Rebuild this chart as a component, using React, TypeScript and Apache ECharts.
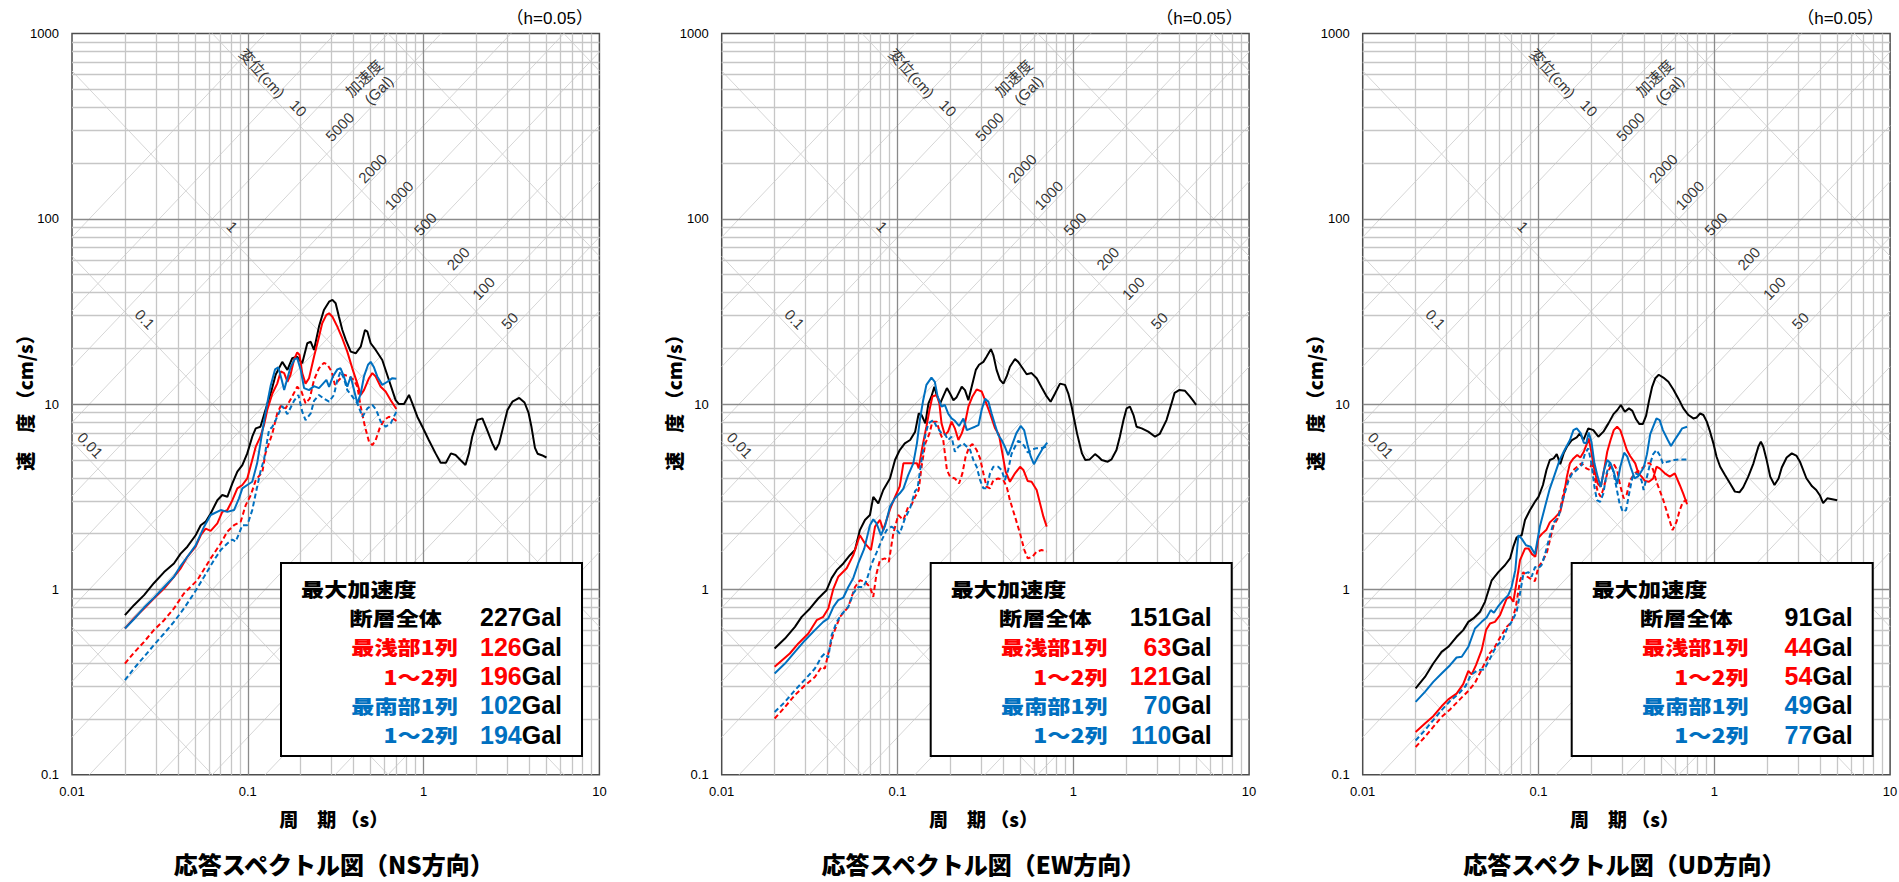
import React, { useEffect, useRef } from 'react';
import * as echarts from 'echarts';

const W = 1899;
const H = 882;

// ---- tick labels ----
const xTickLabels = ['0.01', '0.1', '1', '10'];
const yTickLabels = ['0.1', '1', '10', '100', '1000'];

// ---- titles / legend text ----
const panelTitles = ['応答スペクトル図（NS方向）', '応答スペクトル図（EW方向）', '応答スペクトル図（UD方向）'];
const legendTitle = '最大加速度';
const legendNames = ['断層全体', '最浅部1列', '1～2列', '最南部1列', '1～2列'];
const pgaNS = [227, 126, 196, 102, 194];
const pgaEW = [151, 63, 121, 70, 110];
const pgaUD = [91, 44, 54, 49, 77];

// ---- tripartite reference lines ----
const dispLines = [0.001, 0.01, 0.1, 1, 10, 100, 1000]; // cm
const accLines = [1, 2, 5, 10, 20, 50, 100, 200, 500, 1000, 2000, 5000, 10000, 20000, 50000]; // Gal
// annotation anchors (period s, velocity cm/s, text)
const dispLabelPos: [number, number, string][] = [
  [0.194, 395, '10'], [0.0818, 90.6, '1'], [0.026, 28.7, '0.1'], [0.0127, 6.0, '0.01'],
];
const accLabelPos: [number, number, string][] = [
  [0.333, 314, '5000'], [0.512, 187, '2000'], [0.724, 134, '1000'], [1.02, 93.7, '500'],
  [1.57, 61.2, '200'], [2.19, 42.2, '100'], [3.08, 28.2, '50'],
];
const dispTitlePos: [number, number, string] = [0.1205, 610, '変位(cm)'];
const accTitlePos: [number, number, string] = [0.458, 573, '加速度'];
const accUnitPos: [number, number, string] = [0.555, 495, '(Gal)'];

// ---- NS spectra [period s, velocity cm/s] ----
const nsTotal = [[0.02,0.726],[0.0225,0.822],[0.0257,0.931],[0.0292,1.08],[0.0334,1.24],[0.038,1.38],[0.0415,1.56],[0.0453,1.7],[0.0505,1.96],[0.054,2.22],[0.0576,2.32],[0.0615,2.57],[0.0671,3.03],[0.0716,3.23],[0.0765,3.16],[0.0817,3.73],[0.0872,4.32],[0.0931,4.69],[0.0993,5.42],[0.106,6.67],[0.111,7.4],[0.118,7.55],[0.126,9.29],[0.135,11.4],[0.144,14.4],[0.157,16.9],[0.168,15.3],[0.179,17.7],[0.191,18.0],[0.204,16.6],[0.218,21.3],[0.228,21.7],[0.238,19.6],[0.254,26.2],[0.271,32.2],[0.29,35.7],[0.303,36.5],[0.316,35.0],[0.33,29.6],[0.345,25.1],[0.361,22.2],[0.385,19.2],[0.411,18.8],[0.439,20.4],[0.464,25.1],[0.479,24.6],[0.5,21.3],[0.534,19.6],[0.582,17.3],[0.635,13.5],[0.693,10.5],[0.724,10.0],[0.774,10.0],[0.826,11.2],[0.863,10.1],[0.921,8.55],[0.984,7.55],[1.07,6.4],[1.17,5.42],[1.25,4.83],[1.34,4.83],[1.43,5.42],[1.52,5.31],[1.62,4.99],[1.73,4.69],[1.81,5.42],[1.89,6.67],[2.02,8.2],[2.16,8.37],[2.3,7.24],[2.46,6.14],[2.57,5.65],[2.69,6.14],[2.87,7.87],[3.0,9.3],[3.2,10.3],[3.5,10.8],[3.75,10.2],[3.95,9.0],[4.1,7.6],[4.3,5.8],[4.45,5.4],[4.7,5.3],[5.0,5.15]];
const nsShallow1 = [[0.02,0.615],[0.0225,0.697],[0.0257,0.789],[0.0292,0.893],[0.0334,1.01],[0.038,1.17],[0.0415,1.3],[0.0453,1.5],[0.0505,1.7],[0.054,1.96],[0.0576,2.13],[0.0615,2.07],[0.0671,2.27],[0.0716,2.62],[0.0765,2.68],[0.0817,3.03],[0.0872,3.51],[0.0931,3.66],[0.0993,3.97],[0.106,4.99],[0.111,5.89],[0.118,6.67],[0.124,7.8],[0.129,9.29],[0.138,11.4],[0.147,12.9],[0.154,15.0],[0.161,14.7],[0.168,13.2],[0.175,14.4],[0.183,17.3],[0.191,19.0],[0.197,18.4],[0.204,14.7],[0.213,12.9],[0.223,13.8],[0.238,18.0],[0.254,23.1],[0.265,27.3],[0.28,30.3],[0.29,30.9],[0.303,29.6],[0.323,26.2],[0.345,22.6],[0.368,19.2],[0.393,15.6],[0.42,12.9],[0.439,11.2],[0.458,11.9],[0.489,13.8],[0.511,14.7],[0.534,14.1],[0.57,12.4],[0.608,11.7],[0.65,10.5],[0.7,9.4]];
const nsShallow12 = [[0.02,0.398],[0.0225,0.455],[0.0257,0.521],[0.0292,0.603],[0.0334,0.682],[0.038,0.789],[0.0433,0.951],[0.0516,1.12],[0.0615,1.47],[0.0701,1.77],[0.0765,2.05],[0.0835,2.22],[0.0911,2.32],[0.0973,2.85],[0.104,3.23],[0.111,3.89],[0.121,4.3],[0.126,5.42],[0.138,6.95],[0.147,8.9],[0.154,9.77],[0.164,9.48],[0.179,11.0],[0.191,12.4],[0.202,11.7],[0.213,10.1],[0.225,10.7],[0.238,13.5],[0.254,15.6],[0.271,16.7],[0.283,16.4],[0.3,15.0],[0.313,12.7],[0.33,13.5],[0.352,14.4],[0.377,14.1],[0.402,13.5],[0.42,12.4],[0.439,9.68],[0.464,7.55],[0.489,6.27],[0.511,6.01],[0.534,6.4],[0.562,7.4],[0.596,8.2],[0.635,8.55],[0.68,8.28],[0.7,8.1]];
const nsSouth1 = [[0.02,0.615],[0.0225,0.69],[0.0257,0.798],[0.0292,0.9],[0.0334,1.03],[0.038,1.17],[0.0415,1.34],[0.0453,1.5],[0.0505,1.73],[0.0564,2.18],[0.0615,2.52],[0.0701,2.68],[0.0765,2.62],[0.0835,2.68],[0.0891,3.1],[0.0931,3.51],[0.0993,3.66],[0.106,3.81],[0.113,4.79],[0.118,6.14],[0.124,8.2],[0.13,10.5],[0.135,12.6],[0.143,15.4],[0.149,15.8],[0.156,13.5],[0.161,11.9],[0.168,13.8],[0.175,15.8],[0.185,17.5],[0.191,17.7],[0.2,15.3],[0.209,12.2],[0.223,11.9],[0.238,12.5],[0.254,12.2],[0.268,12.9],[0.28,13.5],[0.29,12.4],[0.305,14.1],[0.323,15.4],[0.337,15.6],[0.352,14.1],[0.368,12.4],[0.385,14.1],[0.402,11.9],[0.42,10.1],[0.439,11.4],[0.458,14.1],[0.483,16.3],[0.5,16.9],[0.522,15.8],[0.545,14.1],[0.582,12.7],[0.622,13.2],[0.664,13.8],[0.7,13.7]];
const nsSouth12 = [[0.02,0.324],[0.0225,0.374],[0.0257,0.433],[0.0292,0.5],[0.0334,0.578],[0.038,0.668],[0.0433,0.789],[0.0494,0.951],[0.0564,1.17],[0.0643,1.44],[0.0701,1.63],[0.0765,1.77],[0.0817,1.86],[0.0853,1.81],[0.0891,2.0],[0.0931,2.22],[0.0993,2.22],[0.106,2.68],[0.111,3.3],[0.118,4.32],[0.124,5.09],[0.132,7.24],[0.138,7.55],[0.144,8.2],[0.157,9.77],[0.168,8.83],[0.183,10.4],[0.194,11.2],[0.204,9.1],[0.213,8.2],[0.228,8.9],[0.238,10.4],[0.254,11.2],[0.271,10.7],[0.29,10.3],[0.309,11.2],[0.323,13.5],[0.337,15.0],[0.352,13.8],[0.368,11.9],[0.393,11.0],[0.42,10.1],[0.449,8.55],[0.479,9.48],[0.511,9.89],[0.538,9.29],[0.57,8.04],[0.608,7.55],[0.65,7.87],[0.7,9.1]];

// ---- EW spectra ----
const ewTotal = [[0.02,0.48],[0.0229,0.543],[0.0261,0.628],[0.0285,0.711],[0.0318,0.789],[0.0354,0.893],[0.0378,0.951],[0.0395,0.99],[0.0422,1.15],[0.0451,1.27],[0.0492,1.38],[0.0536,1.53],[0.0573,1.63],[0.0611,2.09],[0.0653,2.37],[0.0697,2.52],[0.0728,3.16],[0.0778,2.91],[0.083,3.44],[0.0906,3.97],[0.0968,4.99],[0.103,5.65],[0.11,6.14],[0.118,6.4],[0.126,7.1],[0.132,8.9],[0.137,8.73],[0.144,7.87],[0.15,10.1],[0.156,11.0],[0.162,12.4],[0.167,11.2],[0.175,10.1],[0.182,11.0],[0.191,12.2],[0.199,11.4],[0.208,10.5],[0.217,10.9],[0.232,12.4],[0.242,11.9],[0.253,10.5],[0.267,12.9],[0.279,15.3],[0.291,16.3],[0.308,16.9],[0.321,18.0],[0.34,19.8],[0.351,18.4],[0.366,15.3],[0.383,13.5],[0.4,12.9],[0.418,14.1],[0.436,15.9],[0.466,17.5],[0.486,16.9],[0.508,15.9],[0.543,14.5],[0.579,14.7],[0.619,13.8],[0.661,12.3],[0.706,11.0],[0.743,10.3],[0.787,11.4],[0.84,12.9],[0.897,12.7],[0.937,11.4],[0.979,9.68],[1.05,6.95],[1.12,5.42],[1.17,4.99],[1.24,5.03],[1.33,5.37],[1.39,5.2],[1.45,4.99],[1.57,4.89],[1.65,5.03],[1.76,5.65],[1.84,6.67],[1.93,8.2],[2.01,9.48],[2.1,9.68],[2.2,8.73],[2.29,7.55],[2.45,7.4],[2.67,7.1],[2.92,6.67],[3.1,6.9],[3.39,8.2],[3.6,9.9],[3.77,11.5],[4.0,11.9],[4.32,11.8],[4.6,11.0],[4.85,10.3],[5.0,9.9]];
const ewShallow1 = [[0.02,0.382],[0.0244,0.451],[0.0273,0.511],[0.0311,0.578],[0.0347,0.682],[0.0378,0.711],[0.0404,0.789],[0.0432,1.01],[0.046,1.17],[0.0514,1.3],[0.056,1.53],[0.0611,1.96],[0.0653,1.77],[0.0706,1.63],[0.0745,2.18],[0.0795,2.37],[0.083,2.09],[0.0906,2.7],[0.0968,3.16],[0.103,3.6],[0.108,4.79],[0.12,4.79],[0.129,4.79],[0.132,4.5],[0.138,5.77],[0.146,7.55],[0.152,9.29],[0.158,11.0],[0.167,11.2],[0.173,10.1],[0.178,7.87],[0.186,6.81],[0.194,7.1],[0.203,8.04],[0.212,7.4],[0.222,6.4],[0.232,6.95],[0.242,7.87],[0.253,9.68],[0.267,11.0],[0.282,12.0],[0.301,11.7],[0.315,10.5],[0.336,8.9],[0.359,7.4],[0.378,6.81],[0.395,5.42],[0.412,4.32],[0.436,3.81],[0.466,4.23],[0.498,4.59],[0.52,4.41],[0.55,3.85],[0.579,3.81],[0.619,3.44],[0.647,2.91],[0.676,2.47],[0.706,2.18]];
const ewShallow12 = [[0.02,0.201],[0.0229,0.232],[0.0261,0.269],[0.0298,0.304],[0.0339,0.337],[0.037,0.382],[0.0386,0.374],[0.0404,0.451],[0.0432,0.578],[0.0471,0.711],[0.0525,0.805],[0.0573,1.03],[0.0611,1.12],[0.0653,1.1],[0.0697,1.03],[0.0728,0.912],[0.076,1.22],[0.0795,1.44],[0.0849,1.47],[0.0893,1.41],[0.0946,2.0],[0.101,2.52],[0.108,2.37],[0.115,2.79],[0.12,2.85],[0.126,3.16],[0.132,3.44],[0.137,4.59],[0.144,6.14],[0.152,6.95],[0.158,8.04],[0.167,8.04],[0.175,6.95],[0.182,6.4],[0.191,4.41],[0.199,4.06],[0.212,3.97],[0.224,3.73],[0.234,4.23],[0.244,5.2],[0.256,5.89],[0.267,6.08],[0.282,5.65],[0.295,5.09],[0.308,4.23],[0.321,3.58],[0.336,3.51],[0.351,3.89],[0.374,3.97],[0.4,3.89],[0.418,3.58],[0.436,3.03],[0.466,2.47],[0.498,2.0],[0.527,1.63],[0.551,1.47],[0.585,1.5],[0.619,1.6],[0.661,1.63],[0.706,1.6]];
const ewSouth1 = [[0.02,0.352],[0.0229,0.398],[0.0261,0.46],[0.0298,0.532],[0.0339,0.603],[0.0378,0.668],[0.0404,0.697],[0.0432,0.805],[0.046,0.875],[0.0492,0.904],[0.0525,1.03],[0.056,1.15],[0.0598,1.38],[0.0647,1.66],[0.0697,2.22],[0.0728,2.39],[0.076,2.27],[0.0805,1.96],[0.0849,2.2],[0.0906,2.79],[0.0966,3.1],[0.103,3.3],[0.108,3.5],[0.115,4.14],[0.123,4.79],[0.129,6.14],[0.134,8.2],[0.14,10.5],[0.146,12.7],[0.156,13.9],[0.163,13.2],[0.169,11.0],[0.178,9.68],[0.186,9.89],[0.194,8.9],[0.203,8.37],[0.212,8.13],[0.224,7.62],[0.237,8.37],[0.248,7.24],[0.262,7.4],[0.276,7.55],[0.289,7.71],[0.301,9.29],[0.315,10.7],[0.329,10.3],[0.343,8.9],[0.359,7.71],[0.374,6.81],[0.391,6.4],[0.408,5.89],[0.426,5.31],[0.445,5.89],[0.474,6.95],[0.502,7.62],[0.525,7.24],[0.548,6.08],[0.573,5.2],[0.597,4.74],[0.629,5.2],[0.671,5.77],[0.711,6.19]];
const ewSouth12 = [[0.02,0.218],[0.0229,0.247],[0.0261,0.286],[0.0298,0.327],[0.0339,0.374],[0.037,0.433],[0.0386,0.451],[0.0404,0.429],[0.0422,0.566],[0.0451,0.668],[0.0481,0.734],[0.0525,0.805],[0.056,0.951],[0.0598,1.03],[0.0639,1.03],[0.0667,1.12],[0.0714,1.38],[0.076,1.58],[0.0815,1.85],[0.0867,2.09],[0.0924,2.18],[0.0987,2.1],[0.103,2.0],[0.11,2.4],[0.118,2.75],[0.126,3.4],[0.13,3.5],[0.137,4.99],[0.144,6.81],[0.15,7.87],[0.16,8.2],[0.167,7.55],[0.178,6.95],[0.186,6.89],[0.194,6.4],[0.203,6.67],[0.212,5.53],[0.222,5.89],[0.237,6.14],[0.248,5.89],[0.259,5.65],[0.27,4.99],[0.282,4.59],[0.295,3.89],[0.308,3.51],[0.321,3.51],[0.336,4.23],[0.351,4.59],[0.374,4.59],[0.391,4.41],[0.408,3.89],[0.426,4.41],[0.445,5.37],[0.466,5.89],[0.486,6.34],[0.508,6.19],[0.529,5.89],[0.551,5.47],[0.574,5.65],[0.612,5.77],[0.653,5.77],[0.7,5.89]];

// ---- UD spectra ----
const udTotal = [[0.02,0.292],[0.0226,0.337],[0.0252,0.398],[0.0281,0.46],[0.0307,0.49],[0.0342,0.555],[0.0373,0.603],[0.0399,0.668],[0.0426,0.697],[0.0465,0.757],[0.0496,0.857],[0.0542,1.12],[0.0591,1.24],[0.0644,1.35],[0.0689,1.47],[0.0719,1.7],[0.0751,1.91],[0.0802,1.96],[0.0838,2.37],[0.0895,2.68],[0.0955,2.97],[0.1,3.16],[0.106,3.66],[0.111,4.41],[0.116,4.99],[0.122,5.09],[0.127,5.37],[0.133,4.74],[0.139,5.42],[0.145,5.89],[0.155,6.4],[0.165,6.61],[0.172,6.95],[0.18,6.4],[0.192,7.4],[0.205,7.24],[0.219,6.67],[0.234,7.1],[0.25,7.87],[0.267,8.83],[0.281,9.29],[0.294,9.89],[0.31,9.1],[0.327,9.48],[0.342,9.2],[0.359,8.28],[0.375,7.8],[0.392,7.8],[0.409,8.63],[0.426,10.5],[0.443,12.4],[0.462,13.8],[0.483,14.4],[0.513,13.9],[0.548,13.2],[0.585,12.0],[0.625,10.7],[0.667,9.48],[0.713,8.73],[0.76,8.37],[0.794,8.47],[0.83,8.9],[0.867,8.73],[0.906,8.04],[0.946,7.1],[0.988,6.14],[1.03,5.2],[1.08,4.59],[1.15,4.14],[1.23,3.73],[1.31,3.37],[1.39,3.34],[1.46,3.55],[1.56,4.06],[1.67,4.79],[1.78,5.89],[1.84,6.27],[1.9,5.89],[1.99,4.94],[2.08,4.06],[2.2,3.66],[2.32,3.97],[2.42,4.55],[2.58,5.15],[2.76,5.42],[2.94,5.25],[3.07,4.89],[3.34,3.98],[3.6,3.6],[3.8,3.44],[4.0,3.2],[4.16,2.92],[4.39,3.1],[5.0,3.03]];
const udShallow1 = [[0.02,0.17],[0.0226,0.189],[0.0252,0.207],[0.0281,0.234],[0.0307,0.255],[0.0342,0.274],[0.0373,0.308],[0.0399,0.363],[0.0417,0.348],[0.0441,0.39],[0.0475,0.47],[0.0503,0.603],[0.053,0.655],[0.0565,0.668],[0.0604,0.726],[0.0659,0.893],[0.0689,0.912],[0.0719,0.857],[0.0751,1.1],[0.0785,1.44],[0.0838,1.66],[0.0879,1.66],[0.0918,1.55],[0.0959,1.5],[0.1,1.9],[0.105,2.0],[0.111,2.1],[0.116,2.3],[0.124,2.44],[0.133,2.62],[0.139,3.16],[0.145,4.06],[0.151,4.79],[0.158,5.09],[0.166,5.31],[0.173,5.15],[0.181,5.53],[0.187,6.01],[0.193,6.53],[0.199,5.65],[0.208,4.41],[0.217,3.73],[0.226,3.58],[0.236,4.41],[0.246,5.53],[0.257,6.4],[0.268,7.24],[0.28,7.55],[0.292,7.24],[0.305,6.4],[0.318,5.65],[0.332,5.25],[0.355,4.79],[0.37,4.23],[0.386,4.06],[0.403,3.85],[0.425,3.81],[0.449,3.97],[0.469,4.59],[0.489,4.5],[0.523,4.23],[0.558,4.06],[0.596,4.23],[0.636,3.66],[0.665,3.3],[0.7,2.88]];
const udShallow12 = [[0.02,0.141],[0.0226,0.16],[0.0252,0.181],[0.0281,0.205],[0.0314,0.225],[0.0357,0.255],[0.0399,0.283],[0.0435,0.313],[0.0465,0.355],[0.0496,0.402],[0.053,0.455],[0.0565,0.49],[0.0604,0.55],[0.0659,0.628],[0.0703,0.668],[0.0744,0.805],[0.0785,1.12],[0.082,1.24],[0.0864,1.17],[0.0914,1.13],[0.0955,1.11],[0.0998,1.32],[0.106,1.43],[0.112,1.6],[0.117,1.9],[0.122,2.22],[0.128,2.39],[0.133,2.74],[0.14,3.44],[0.148,3.97],[0.158,4.41],[0.166,4.59],[0.176,4.79],[0.187,4.5],[0.196,4.41],[0.202,4.94],[0.208,4.06],[0.217,3.37],[0.226,3.16],[0.236,3.58],[0.246,4.23],[0.257,4.59],[0.268,4.74],[0.28,4.41],[0.292,3.61],[0.305,3.1],[0.318,3.27],[0.332,3.89],[0.355,4.26],[0.38,4.41],[0.397,4.59],[0.414,4.79],[0.432,4.79],[0.449,4.41],[0.469,3.81],[0.513,3.03],[0.548,2.47],[0.579,2.09],[0.61,2.32],[0.636,2.68],[0.663,2.97],[0.7,3.03]];
const udSouth1 = [[0.02,0.247],[0.0226,0.28],[0.0252,0.317],[0.0281,0.352],[0.0314,0.39],[0.0342,0.429],[0.0366,0.433],[0.0399,0.49],[0.0435,0.615],[0.0475,0.668],[0.0507,0.705],[0.0535,0.773],[0.0558,0.748],[0.0591,0.813],[0.063,0.875],[0.0673,0.931],[0.0703,1.03],[0.0738,1.27],[0.0768,1.96],[0.0802,1.88],[0.0849,1.73],[0.0902,1.7],[0.0955,1.55],[0.102,2.2],[0.109,2.8],[0.116,3.5],[0.124,4.2],[0.132,5.0],[0.14,5.6],[0.151,6.4],[0.158,7.24],[0.165,7.4],[0.174,6.95],[0.181,6.19],[0.187,6.14],[0.193,7.02],[0.2,6.27],[0.208,4.79],[0.217,4.06],[0.226,3.58],[0.236,4.41],[0.246,4.99],[0.257,4.79],[0.268,4.32],[0.28,3.7],[0.292,4.59],[0.307,5.47],[0.32,5.2],[0.335,4.55],[0.352,3.97],[0.37,4.09],[0.397,4.55],[0.414,5.37],[0.432,6.89],[0.449,7.55],[0.469,8.37],[0.489,8.2],[0.51,7.24],[0.544,6.4],[0.567,5.94],[0.591,6.34],[0.63,6.95],[0.657,7.4],[0.7,7.55]];
const udSouth12 = [[0.02,0.153],[0.0226,0.174],[0.0252,0.197],[0.0281,0.223],[0.0314,0.25],[0.0352,0.274],[0.0385,0.301],[0.0411,0.344],[0.045,0.366],[0.0491,0.37],[0.0525,0.415],[0.056,0.47],[0.059,0.506],[0.0624,0.532],[0.0659,0.608],[0.0703,0.668],[0.0751,0.757],[0.0785,0.951],[0.082,1.21],[0.0876,1.24],[0.0914,1.17],[0.0955,1.32],[0.0998,1.3],[0.104,1.35],[0.109,1.55],[0.116,1.95],[0.122,2.3],[0.13,2.47],[0.139,3.16],[0.148,3.85],[0.155,4.19],[0.165,4.41],[0.176,4.69],[0.184,5.42],[0.192,5.77],[0.2,4.79],[0.208,3.58],[0.215,3.03],[0.224,2.97],[0.234,3.3],[0.244,4.23],[0.254,4.79],[0.265,4.41],[0.277,3.58],[0.289,2.91],[0.302,2.62],[0.315,2.68],[0.328,3.3],[0.342,4.02],[0.357,4.23],[0.373,4.14],[0.386,3.85],[0.396,3.44],[0.414,4.06],[0.432,4.79],[0.449,5.37],[0.469,5.65],[0.489,5.31],[0.51,4.79],[0.544,4.89],[0.591,4.99],[0.63,5.03],[0.7,5.03]];

const panelSeries = [
  [nsTotal, nsShallow1, nsShallow12, nsSouth1, nsSouth12],
  [ewTotal, ewShallow1, ewShallow12, ewSouth1, ewSouth12],
  [udTotal, udShallow1, udShallow12, udSouth1, udSouth12],
];
const panelPga = [pgaNS, pgaEW, pgaUD];

// ---- layout / style ----
const PANEL_LEFT = [72, 721.7, 1362.7];
const PLOT_TOP = 33.5;
const PLOT_W = 527.4;
const PLOT_H = 741.2;
const FONT = "'Liberation Sans', 'Noto Sans CJK JP', sans-serif";
const JFONT = "'Noto Sans CJK JP', sans-serif";
const COLORS = ['#000000', '#FF0000', '#FF0000', '#0070C0', '#0070C0'];
const DASHED = [false, false, true, false, true];

const T_MIN = 0.01, T_MAX = 10, V_MIN = 0.1, V_MAX = 1000;

function rectGrid() {
  const minor: any[] = [];
  const major: any[] = [];
  for (const k of [-2, -1, 0]) {
    for (let m = 1; m <= 9; m++) {
      const t = m * Math.pow(10, k);
      if (t <= T_MIN + 1e-9) continue;
      const item = { coords: [[t, V_MIN], [t, V_MAX]] };
      (m === 1 ? major : minor).push(item);
    }
  }
  for (const k of [-1, 0, 1, 2]) {
    for (let m = 1; m <= 9; m++) {
      const v = m * Math.pow(10, k);
      if (v <= V_MIN + 1e-9) continue;
      const item = { coords: [[T_MIN, v], [T_MAX, v]] };
      (m === 1 ? major : minor).push(item);
    }
  }
  return { minor, major };
}

function diagGrid() {
  const out: any[] = [];
  for (const d of dispLines) {
    const c = 2 * Math.PI * d; // V = c / T
    const t1 = Math.max(T_MIN, c / V_MAX);
    const t2 = Math.min(T_MAX, c / V_MIN);
    if (t1 < t2) out.push({ coords: [[t1, c / t1], [t2, c / t2]] });
  }
  for (const a of accLines) {
    const c = a / (2 * Math.PI); // V = c * T
    const t1 = Math.max(T_MIN, V_MIN / c);
    const t2 = Math.min(T_MAX, V_MAX / c);
    if (t1 < t2) out.push({ coords: [[t1, c * t1], [t2, c * t2]] });
  }
  return out;
}

function buildOption() {
  const grid: any[] = [];
  const xAxis: any[] = [];
  const yAxis: any[] = [];
  const series: any[] = [];
  const graphic: any[] = [];
  const rg = rectGrid();
  const dg = diagGrid();

  PANEL_LEFT.forEach((L, p) => {
    grid.push({
      left: L, top: PLOT_TOP, width: PLOT_W, height: PLOT_H,
      show: true, borderColor: '#4d4d4d', borderWidth: 1.5, backgroundColor: 'transparent',
      containLabel: false, outerBoundsMode: 'none',
    });
    xAxis.push({
      type: 'log', logBase: 10, gridIndex: p, min: T_MIN, max: T_MAX,
      axisLine: { show: false }, axisTick: { show: false }, splitLine: { show: false },
      axisLabel: {
        show: true, margin: 10, color: '#000', fontSize: 13, fontFamily: FONT,
        showMinLabel: true, showMaxLabel: true,
        formatter: (v: number) => xTickLabels[Math.round(Math.log10(v)) + 2] ?? '',
      },
    });
    yAxis.push({
      type: 'log', logBase: 10, gridIndex: p, min: V_MIN, max: V_MAX,
      axisLine: { show: false }, axisTick: { show: false }, splitLine: { show: false },
      axisLabel: {
        show: true, margin: 13, color: '#000', fontSize: 13, fontFamily: FONT,
        showMinLabel: true, showMaxLabel: true,
        formatter: (v: number) => yTickLabels[Math.round(Math.log10(v)) + 1] ?? '',
      },
    });

    const common = { xAxisIndex: p, yAxisIndex: p, silent: true, animation: false };
    series.push({
      ...common, type: 'lines', coordinateSystem: 'cartesian2d', polyline: false, z: 1,
      data: dg, lineStyle: { color: '#d6d6d6', width: 1, opacity: 1 },
    });
    series.push({
      ...common, type: 'lines', coordinateSystem: 'cartesian2d', polyline: false, z: 1,
      data: rg.minor, lineStyle: { color: '#c6c6c6', width: 1.3, opacity: 1 },
    });
    series.push({
      ...common, type: 'lines', coordinateSystem: 'cartesian2d', polyline: false, z: 1,
      data: rg.major, lineStyle: { color: '#8a8a8a', width: 1.3, opacity: 1 },
    });

    panelSeries[p].forEach((data, i) => {
      series.push({
        ...common, type: 'line', name: legendNames[i], data, z: 5 + (i === 0 ? 0 : 1),
        showSymbol: false, symbol: 'none', smooth: false,
        lineStyle: { color: COLORS[i], width: 2, type: DASHED[i] ? [5, 3] : 'solid' },
      });
    });

    const labelItems: any[] = [];
    dispLabelPos.forEach(([t, v, s]) => labelItems.push({ value: [t, v], label: { formatter: s, rotate: -46 } }));
    accLabelPos.forEach(([t, v, s]) => labelItems.push({ value: [t, v], label: { formatter: s, rotate: 46 } }));
    labelItems.push({ value: [dispTitlePos[0], dispTitlePos[1]], label: { formatter: dispTitlePos[2], rotate: -48 } });
    labelItems.push({ value: [accTitlePos[0], accTitlePos[1]], label: { formatter: accTitlePos[2], rotate: 44 } });
    labelItems.push({ value: [accUnitPos[0], accUnitPos[1]], label: { formatter: accUnitPos[2], rotate: 45 } });
    series.push({
      ...common, type: 'scatter', z: 4, symbolSize: 1,
      itemStyle: { color: 'rgba(0,0,0,0)' },
      label: { show: true, position: 'inside', color: '#000', fontSize: 15, fontFamily: FONT },
      data: labelItems,
    });

    // texts
    graphic.push({
      type: 'text', x: L + 521, y: 18.3, z: 100,
      style: { text: '（h=0.05）', fill: '#000', fontSize: 17, fontFamily: FONT, align: 'right', verticalAlign: 'middle' },
    });
    graphic.push({
      type: 'text', x: L + PLOT_W / 2 - 2, y: 818, z: 100,
      style: { text: '周　期 （s）', fill: '#000', fontSize: 19, fontWeight: 900, fontFamily: JFONT, align: 'center', verticalAlign: 'middle' },
    });
    graphic.push({
      type: 'text', x: L - 48, y: 398, rotation: Math.PI / 2, z: 100,
      style: { text: '速　度 （cm/s）', fill: '#000', fontSize: 19, fontWeight: 900, fontFamily: JFONT, align: 'center', verticalAlign: 'middle' },
    });
    graphic.push({
      type: 'text', x: L + PLOT_W / 2 - 2, y: 863, z: 100,
      style: { text: panelTitles[p], fill: '#000', fontSize: 24, fontWeight: 900, fontFamily: JFONT, align: 'center', verticalAlign: 'middle' },
    });

    // legend box
    graphic.push({
      type: 'rect', z: 100,
      shape: { x: L + 209, y: 563, width: 301, height: 193 },
      style: { fill: '#ffffff', stroke: '#000000', lineWidth: 2 },
    });
    graphic.push({
      type: 'text', x: L + 229, y: 588, z: 101, scaleX: 1.17, scaleY: 1,
      style: { text: legendTitle, fill: '#000', fontSize: 19.8, fontWeight: 900, fontFamily: JFONT, align: 'left', verticalAlign: 'middle' },
    });
    const rowY = [617.3, 646.6, 675.9, 705.2, 734.5];
    legendNames.forEach((name, i) => {
      graphic.push({
        type: 'text', x: L + (i === 0 ? 370 : 386), y: rowY[i], z: 101, scaleX: 1.17, scaleY: 1,
        style: { text: name, fill: COLORS[i], fontSize: 19.8, fontWeight: 900, fontFamily: JFONT, align: 'right', verticalAlign: 'middle' },
      });
      graphic.push({
        type: 'text', x: L + 490, y: rowY[i], z: 101,
        style: {
          text: `{n|${panelPga[p][i]}}{g|Gal}`,
          align: 'right', verticalAlign: 'middle',
          fontSize: 25, fontWeight: 'bold', fontFamily: "'Liberation Sans', sans-serif", fill: '#000',
          rich: {
            n: { fill: COLORS[i], fontSize: 25, fontWeight: 'bold', fontFamily: "'Liberation Sans', sans-serif" },
            g: { fill: '#000', fontSize: 25, fontWeight: 'bold', fontFamily: "'Liberation Sans', sans-serif" },
          },
        },
      });
    });
  });

  return {
    animation: false,
    backgroundColor: '#ffffff',
    grid, xAxis, yAxis, series, graphic,
  };
}

export default function App() {
  const ref = useRef<HTMLDivElement>(null);
  useEffect(() => {
    if (!ref.current) return;
    const chart = echarts.init(ref.current, null, { renderer: 'svg', width: W, height: H });
    chart.setOption(buildOption() as any);
    return () => chart.dispose();
  }, []);
  return (
    <div
      ref={ref}
      style={{ position: 'fixed', left: 0, top: 0, width: W, height: H, background: '#fff' }}
    />
  );
}
